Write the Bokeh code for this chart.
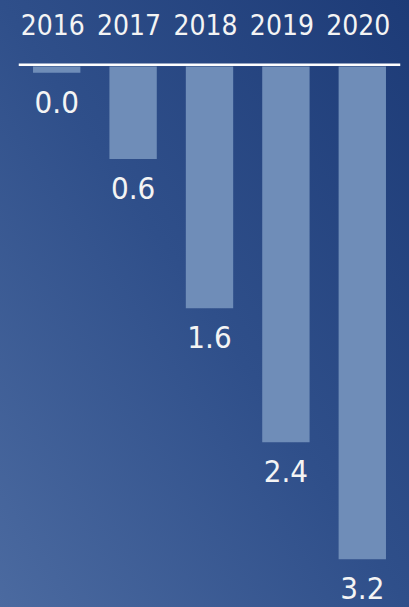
from bokeh.plotting import figure
from bokeh.models import ColumnDataSource, Range1d, FactorRange, Span
from bokeh.core.properties import value
from bokeh.embed import file_html
from bokeh.resources import INLINE

years = ["2016", "2017", "2018", "2019", "2020"]
values = [0.04, 0.6, 1.57, 2.44, 3.2]
labels = ["%.1f" % v for v in values]

FONT = "DejaVu Sans Condensed"

src = ColumnDataSource(dict(
    year=years,
    top=[0.0] * len(years),
    bottom=[-v for v in values],
    label=labels,
))

p = figure(width=409, height=607, output_backend="svg", toolbar_location=None,
           x_range=FactorRange(factors=years, range_padding=0),
           y_range=Range1d(-(607 - 66) / 154.0, 66 / 154.0),
           min_border_left=18, min_border_right=9, min_border_top=0, min_border_bottom=0)
p.styles = {"background": "linear-gradient(to top right, #4b6aa0 0%, #2f4f8a 50%, #1d3b77 100%)"}
p.background_fill_alpha = 0
p.border_fill_alpha = 0
p.outline_line_color = None
p.axis.visible = False
p.grid.visible = False

p.vbar(x="year", top="top", bottom="bottom", width=0.62, source=src,
       fill_color="#6f8db8", line_color=None)

p.add_layout(Span(location=0.012, dimension="width", line_color="#ffffff", line_width=2.5))

p.text(x="year", y="top", text="year", source=src, text_align="center",
       text_baseline="alphabetic", y_offset=-42, x_offset=-4,
       text_font=value(FONT), text_font_size="28px", text_color="#f4f4f4")

p.text(x="year", y="bottom", text="label", source=src, text_align="center",
       text_baseline="alphabetic", y_offset=29,
       text_font=value(FONT), text_font_size="31px", text_color="#f4f4f4")

open("out.html", "w").write(file_html(p, INLINE))
